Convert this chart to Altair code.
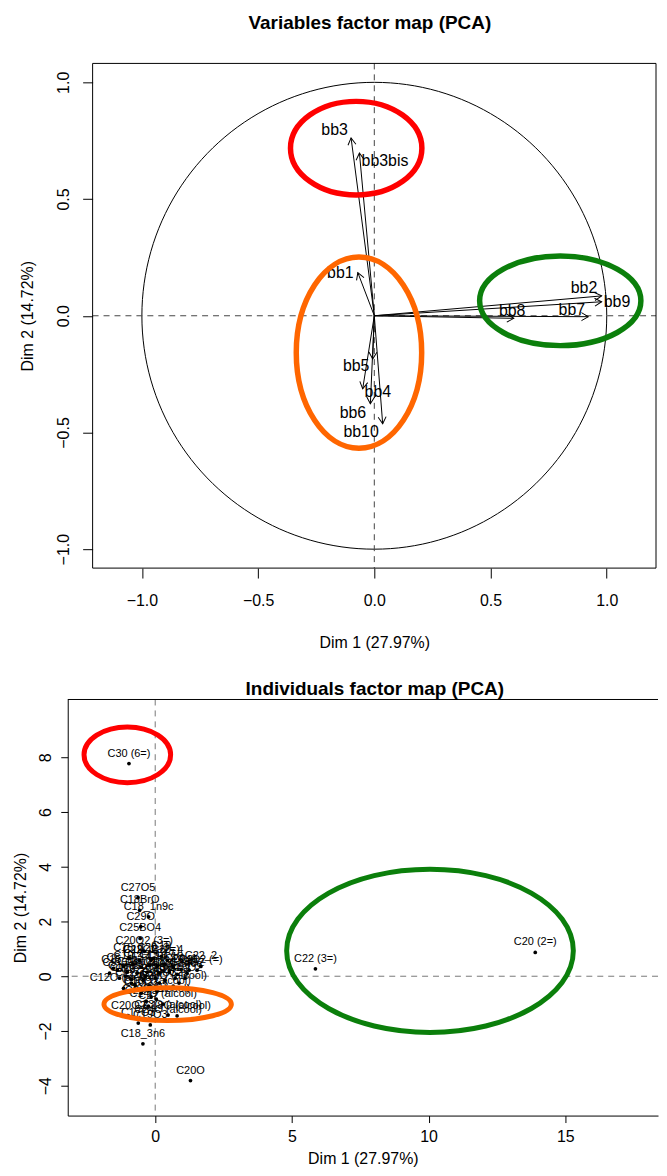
import altair as alt
import pandas as pd

FONT = "Liberation Sans"

# ---------------- Variables factor map (top) ----------------
var_names = ["bb3", "bb3bis", "bb1", "bb5", "bb4", "bb6", "bb10", "bb2", "bb9", "bb7", "bb8"]
var_dim1 = [-0.100, -0.064, -0.071, -0.050, -0.007, -0.017, 0.036, 0.978, 0.978, 0.921, 0.600]
var_dim2 = [0.762, 0.697, 0.185, -0.313, -0.185, -0.377, -0.463, 0.085, 0.060, -0.004, -0.011]
var_lab_dim1 = [-0.171, 0.046, -0.146, -0.078, 0.015, -0.092, -0.057, 0.902, 1.044, 0.850, 0.593]
var_lab_dim2 = [0.796, 0.661, 0.185, -0.217, -0.327, -0.415, -0.497, 0.118, 0.058, 0.024, 0.021]

top_ell_color = ["#ff0000", "#ff6600", "#0b7f0b"]
top_ell_cx = [-0.078, -0.066, 0.800]
top_ell_cy = [0.718, -0.158, 0.064]
top_ell_rx = [66, 63, 81]      # pixel radii (style)
top_ell_ry = [47, 96, 45]

# ---------------- Individuals factor map (bottom) ----------------
ind_names = [
    "C30 (6=)", "C20 (2=)", "C22 (3=)", "C20O", "C18_3n6",
    "C27O5", "C18BrO", "C18_1n9c", "C29O", "C25BO4",
    "C20O2 (3=)", "C22O2 (2=)", "C16_1", "C19",
    "C8", "C10", "C12", "C14", "C15", "C16", "C17", "C18", "C20_1", "C21", "C24O2 (=)",
    "C13", "C14_1", "C16_1n7", "C17_1", "C18_1n9t", "C18_2n6c", "C23O2",
    "C11", "C20_2", "C22_1n9", "C23", "C24", "C24_1", "C26", "C28",
    "C16O (alcool)", "C22O (alcool)", "C20O3", "C18O2", "C21 (3=)", "C26O (alcool)",
    "C20O2", "C18O (alcool)", "C24O (alcool)", "C17O3", "C19O3", "C23O (alcool)",
    "C9", "C15_1", "C17O2", "C19_1", "C20_3", "C20_4", "C22_6", "C14O",
    "C18O3", "C16O2", "C22_2", "C12O (alcool)", "C25", "C27", "C14O (alcool)",
]
ind_dim1 = [
    -0.96, 13.90, 5.86, 1.29, -0.45,
    -0.63, -0.57, -0.24, -0.53, -0.55,
    -0.40, -0.15, -0.95, 0.22,
    -1.53, -1.16, -0.80, -0.51, -0.22, 0.07, 0.36, 0.66, 0.95, 1.24, 1.53,
    -1.02, -0.66, -0.29, 0.15, 0.51, 0.80, 1.16,
    -1.31, -0.87, -0.44, 0.00, 0.36, 0.73, -0.73, -0.22,
    0.07, 0.66, -0.51, -0.15, -0.33, 0.04,
    -0.98, 0.80, 0.47, -0.62, -0.18, 0.47,
    -1.67, -1.38, -1.09, -0.58, -0.07, 0.44, -0.87, -0.36,
    0.15, 1.09, 1.67, -1.16, 0.87, -0.25, 0.29,
]
ind_dim2 = [
    7.77, 0.87, 0.27, -3.81, -2.47,
    2.87, 2.41, 2.17, 1.81, 1.38,
    0.91, 0.58, 0.65, 0.73,
    0.29, 0.36, 0.44, 0.33, 0.40, 0.36, 0.44, 0.33, 0.25, 0.22, 0.22,
    0.15, 0.11, 0.15, 0.11, 0.15, 0.07, 0.11,
    -0.07, -0.11, -0.15, -0.07, -0.15, -0.07, -0.33, -0.36,
    -0.55, -0.36, -0.62, -0.76, -0.91, -0.84,
    -1.45, -1.45, -1.60, -1.71, -1.78, -1.42,
    0.11, 0.22, 0.00, 0.58, 0.65, 0.58, -0.25, 0.00,
    -0.25, -0.07, 0.36, -0.44, -0.25, -1.09, -1.02,
]

bot_ell_color = ["#ff0000", "#0b7f0b", "#ff6600"]
bot_ell_cx = [-1.02, 10.05, 0.455]
bot_ell_cy = [8.09, 0.93, -1.02]
bot_ell_rx = [43.5, 144, 64]
bot_ell_ry = [28, 82, 16.5]

# ---------------- helpers ----------------
def ellipse_path(rx, ry):
    m = max(rx, ry)
    a, b, k = rx / m, ry / m, 0.5523
    f = lambda v: f"{v:.4f}"
    return (f"M{f(a)},0 C{f(a)},{f(b*k)} {f(a*k)},{f(b)} 0,{f(b)} "
            f"C{f(-a*k)},{f(b)} {f(-a)},{f(b*k)} {f(-a)},0 "
            f"C{f(-a)},{f(-b*k)} {f(-a*k)},{f(-b)} 0,{f(-b)} "
            f"C{f(a*k)},{f(-b)} {f(a)},{f(-b*k)} {f(a)},0 Z")

AX = dict(labelFont=FONT, titleFont=FONT, labelFontSize=16, titleFontSize=16,
          labelColor="black", titleColor="black", tickColor="black", domainColor="black",
          grid=False, titleFontWeight="normal", tickWidth=1, domainWidth=1)

one = pd.DataFrame({"a": [0]})

# ---------------- top chart ----------------
TOFF, TBW, TH = 25, 566, 507          # box starts TOFF px right of the group origin
TW = TOFF + TBW
tx_scale = alt.Scale(domain=[-1.212, 1.212], range=[TOFF, TW], nice=False, zero=False)
ty_scale = alt.Scale(domain=[-1.081, 1.081], nice=False, zero=False)
tx_axis = alt.Axis(title="Dim 1 (27.97%)", values=[-1, -0.5, 0, 0.5, 1], format=".1f",
                   domain=False, tickSize=10, labelPadding=15, titlePadding=26, **AX)
ty_axis = alt.Axis(title="Dim 2 (14.72%)", values=[-1, -0.5, 0, 0.5, 1], format=".1f",
                   domain=False, tickSize=10, offset=-TOFF, labelAngle=270, labelAlign="center",
                   labelBaseline="bottom", labelPadding=11, titlePadding=20, **AX)

def tx(f):
    return alt.X(f, type="quantitative", scale=tx_scale, axis=tx_axis)

def ty(f):
    return alt.Y(f, type="quantitative", scale=ty_scale, axis=ty_axis)

var_df = pd.DataFrame({"name": var_names, "x": var_dim1, "y": var_dim2,
                       "lx": var_lab_dim1, "ly": var_lab_dim2})

box_t = alt.Chart(one).mark_rect(filled=False, stroke="black", strokeWidth=1).encode(
    x=alt.value(TOFF), x2=alt.value(TW), y=alt.value(0), y2=alt.value(TH))

circle = alt.Chart(alt.sequence(0, 361, 2, as_="a")).transform_calculate(
    x="cos(datum.a*PI/180)", y="sin(datum.a*PI/180)"
).mark_line(color="black", strokeWidth=1).encode(x=tx("x"), y=ty("y"), order="a:Q")

vline_t = alt.Chart(pd.DataFrame({"x": [0]})).mark_rule(
    color="#444", strokeDash=[6, 5], strokeWidth=1).encode(x=tx("x"))
hline_t = alt.Chart(pd.DataFrame({"y": [0]})).mark_rule(
    color="#444", strokeDash=[6, 5], strokeWidth=1).encode(
    y=ty("y"), x=alt.value(TOFF), x2=alt.value(TW))

arrows = alt.Chart(var_df).transform_calculate(x0="0", y0="0").mark_rule(
    color="black", strokeWidth=1).encode(x=tx("x"), y=ty("y"), x2=alt.X2("x0:Q"), y2=alt.Y2("y0:Q"))

heads = alt.Chart(var_df).transform_calculate(
    ang="(atan2(datum.x, datum.y)*180/PI + 360) % 360"
).mark_point(shape="M-0.5,0.866 L0,0 L0.5,0.866", filled=False, size=256,
             color="black", strokeWidth=1, opacity=1).encode(
    x=tx("x"), y=ty("y"), angle=alt.Angle("ang:Q", scale=None))

var_labels = alt.Chart(var_df).mark_text(
    font=FONT, fontSize=16, color="black", align="center", baseline="middle").encode(
    x=tx("lx"), y=ty("ly"), text="name:N")

top_layers = [circle, vline_t, hline_t, arrows, heads, var_labels, box_t]
for c, cx, cy, rx, ry in zip(top_ell_color, top_ell_cx, top_ell_cy, top_ell_rx, top_ell_ry):
    top_layers.append(
        alt.Chart(pd.DataFrame({"x": [cx], "y": [cy]})).mark_point(
            shape=ellipse_path(rx, ry), size=(2 * max(rx, ry)) ** 2, filled=False,
            color=c, strokeWidth=5.5, opacity=1).encode(x=tx("x"), y=ty("y")))

top = alt.layer(*top_layers).properties(
    width=TW, height=TH,
    title=alt.TitleParams("Variables factor map (PCA)", fontSize=19, fontWeight="bold",
                          font=FONT, color="black", anchor="middle", frame="group",
                          offset=30, dx=8),
    view=alt.ViewBackground(stroke="transparent"),
)

# ---------------- bottom chart ----------------
BW, BH = 593, 418
bx_scale = alt.Scale(domain=[-3.20, 18.39], nice=False, zero=False)
by_scale = alt.Scale(domain=[-5.09, 10.11], nice=False, zero=False)
bx_axis = alt.Axis(title="Dim 1 (27.97%)", values=[0, 5, 10, 15], format="d",
                   domain=True, tickSize=7, labelPadding=6, titlePadding=6, **AX)
by_axis = alt.Axis(title="Dim 2 (14.72%)", values=[-4, -2, 0, 2, 4, 6, 8], format="d",
                   domain=True, tickSize=7, labelAngle=270, labelAlign="center",
                   labelBaseline="bottom", labelPadding=7, titlePadding=9, **AX)

def bx(f):
    return alt.X(f, type="quantitative", scale=bx_scale, axis=bx_axis)

def by(f):
    return alt.Y(f, type="quantitative", scale=by_scale, axis=by_axis)

ind_df = pd.DataFrame({"name": ind_names, "x": ind_dim1, "y": ind_dim2})

vline_b = alt.Chart(pd.DataFrame({"x": [0]})).mark_rule(
    color="#777", strokeDash=[6, 5], strokeWidth=1).encode(x=bx("x"))
hline_b = alt.Chart(pd.DataFrame({"y": [0]})).mark_rule(
    color="#777", strokeDash=[6, 5], strokeWidth=1).encode(y=by("y"))
top_border = alt.Chart(one).mark_rule(color="black", strokeWidth=1).encode(
    x=alt.value(0), x2=alt.value(BW), y=alt.value(0))

ind_points = alt.Chart(ind_df).mark_circle(size=14, color="black", opacity=1).encode(
    x=bx("x"), y=by("y"))
ind_labels = alt.Chart(ind_df).mark_text(
    font=FONT, fontSize=11, color="black", align="center", baseline="middle", dy=-10).encode(
    x=bx("x"), y=by("y"), text="name:N")

bot_layers = [vline_b, hline_b, top_border, ind_points, ind_labels]
for c, cx, cy, rx, ry in zip(bot_ell_color, bot_ell_cx, bot_ell_cy, bot_ell_rx, bot_ell_ry):
    bot_layers.append(
        alt.Chart(pd.DataFrame({"x": [cx], "y": [cy]})).mark_point(
            shape=ellipse_path(rx, ry), size=(2 * max(rx, ry)) ** 2, filled=False,
            color=c, strokeWidth=5, opacity=1).encode(x=bx("x"), y=by("y")))

bottom = alt.layer(*bot_layers).properties(
    width=BW, height=BH,
    title=alt.TitleParams("Individuals factor map (PCA)", fontSize=19, fontWeight="bold",
                          font=FONT, color="black", anchor="middle", frame="group",
                          offset=0, dx=12),
    view=alt.ViewBackground(stroke="transparent"),
)

chart = alt.vconcat(top, bottom, spacing=28).properties(
    padding={"left": 4, "top": 3, "right": 0, "bottom": -1},
    background="white",
)

chart.save("out.html", embed_options={"renderer": "svg", "actions": False})
